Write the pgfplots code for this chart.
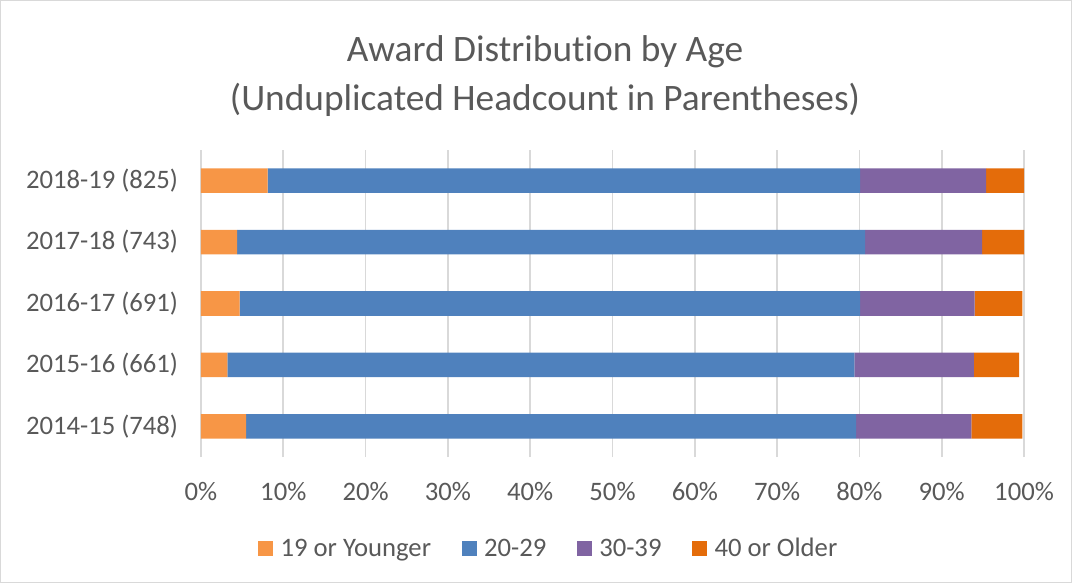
\documentclass[border=0pt]{standalone}
\usepackage{pgfplots}
\pgfplotsset{compat=1.18}
\usepackage{fontspec}
\setmainfont{Carlito}[RawFeature={-liga;-dlig;-clig}]
\definecolor{cA}{HTML}{F79646}
\definecolor{cB}{HTML}{4F81BD}
\definecolor{cC}{HTML}{8064A2}
\definecolor{cD}{HTML}{E46C0A}
\definecolor{tgray}{HTML}{595959}
\definecolor{ggray}{HTML}{D9D9D9}
\begin{document}
\begin{tikzpicture}[x=1pt,y=1pt]
\draw[color=ggray, line width=0.75pt] (0.4,-0.4) rectangle (803.6,-436.85);
\node[font=\fontsize{28}{34}\selectfont, text=tgray, anchor=base] at (408.75,-46) {Award Distribution by Age};
\node[font=\fontsize{28}{34}\selectfont, text=tgray, anchor=base] at (408.75,-83) {(Unduplicated Headcount in Parentheses)};
\begin{axis}[
  at={(150.75pt,-342.75pt)}, anchor=south west,
  scale only axis, width=617.25pt, height=230.25pt,
  xbar stacked, bar width=0.4,
  xmin=0, xmax=100, ymin=-0.5, ymax=4.5,
  ytick={0,1,2,3,4},
  yticklabels={2014-15 (748),2015-16 (661),2016-17 (691),2017-18 (743),2018-19 (825)},
  xtick={0,10,...,100},
  xticklabels={0\%,10\%,20\%,30\%,40\%,50\%,60\%,70\%,80\%,90\%,100\%},
  xmajorgrids, grid style={color=ggray, line width=1.25pt},
  axis line style={draw=none},
  major tick length=0pt,
  tick label style={font=\fontsize{20}{24}\selectfont, text=tgray, inner sep=0pt},
  yticklabel style={anchor=east, xshift=-17pt},
  xticklabel style={anchor=north, yshift=-19pt},
  legend style={at={(0.423,-0.298)}, anchor=center, legend columns=4, draw=none,
    font=\fontsize{20}{24}\selectfont, text=tgray,
    /tikz/every odd column/.append style={column sep=3.5pt},
    /tikz/every even column/.append style={column sep=21pt}},
  legend image code/.code={\fill[#1] (0pt,-5.4pt) rectangle (11.25pt,5.85pt);},
]
\addplot[fill=cA, draw=none] coordinates {(5.5,0) (3.2,1) (4.7,2) (4.4,3) (8.1,4)};
\addplot[fill=cB, draw=none] coordinates {(74.1,0) (76.2,1) (75.4,2) (76.3,3) (72.0,4)};
\addplot[fill=cC, draw=none] coordinates {(14.0,0) (14.5,1) (13.9,2) (14.2,3) (15.3,4)};
\addplot[fill=cD, draw=none] coordinates {(6.2,0) (5.5,1) (5.8,2) (5.1,3) (4.6,4)};
\legend{19 or Younger,20-29,30-39,40 or Older}
\end{axis}
\end{tikzpicture}
\end{document}
